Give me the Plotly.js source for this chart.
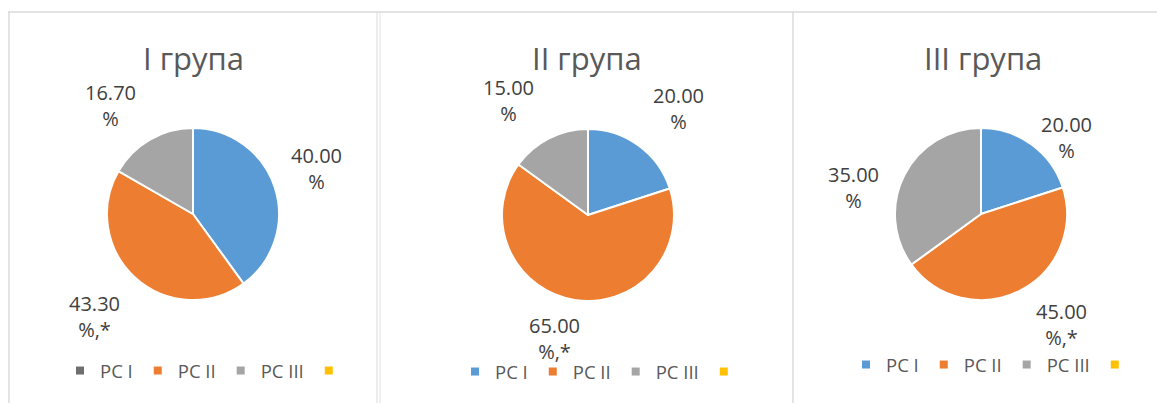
<!DOCTYPE html>
<html>
<head>
<meta charset="utf-8">
<script src="https://cdn.plot.ly/plotly-3.0.1.min.js"></script>
<style>html,body{margin:0;padding:0;background:#fff;overflow:hidden;}#chart{width:1157px;height:403px;}</style>
</head>
<body>
<div id="chart"></div>
<script>
// ---- data ----
const categories = ["PC I", "PC II", "PC III"];
const groupTitles = ["I група", "II група", "III група"];
const group1 = [40.0, 43.3, 16.7];
const group2 = [20.0, 65.0, 15.0];
const group3 = [20.0, 45.0, 35.0];
const labelSuffix = ["", ",*", ""];
const legendNames = ["PC I", "PC II", "PC III", ""];

// ---- styles / layout config ----
const W = 1157, H = 403;
const sliceColors = ["#5B9BD5", "#ED7D31", "#A5A5A5"];
const legendColors = [
  ["#6E6E6E", "#ED7D31", "#A5A5A5", "#FFC000"],
  ["#5B9BD5", "#ED7D31", "#A5A5A5", "#FFC000"],
  ["#5B9BD5", "#ED7D31", "#A5A5A5", "#FFC000"]
];
const panels = [
  {cx: 193, cy: 214, r: 86, titleX: 193, legendX: 60, legendY: 371,
   nudge: [[-5,-4],[-8,2],[-15,8]]},
  {cx: 588, cy: 215, r: 86, titleX: 587, legendX: 455, legendY: 372,
   nudge: [[11,3],[-12,-10],[-18,6]]},
  {cx: 981, cy: 214, r: 86, titleX: 983, legendX: 846, legendY: 365,
   nudge: [[6,33],[19,-10],[-7,35]]}
];
const groups = [group1, group2, group3];
const FONT = "Open Sans, Noto Sans, sans-serif";

const px = x => x / W;
const py = y => (H - y) / H;

const traces = [];
const annotations = [];
const layout = {
  width: W, height: H,
  margin: {l: 0, r: 0, t: 0, b: 0},
  paper_bgcolor: "#fff", plot_bgcolor: "#fff",
  xaxis: {visible: false, range: [0, 1]},
  yaxis: {visible: false, range: [0, 1]},
  showlegend: true,
  font: {family: FONT, color: "#595959"},
  shapes: [
    {type: "line", xref: "paper", yref: "paper", x0: px(8), x1: 1, y0: py(12), y1: py(12), line: {color: "#DADADA", width: 1.5}},
    {type: "line", xref: "paper", yref: "paper", x0: px(9), x1: px(9), y0: 0, y1: py(12), line: {color: "#DADADA", width: 1.5}},
    {type: "line", xref: "paper", yref: "paper", x0: px(377), x1: px(377), y0: 0, y1: py(12), line: {color: "#DADADA", width: 1}},
    {type: "line", xref: "paper", yref: "paper", x0: px(380), x1: px(380), y0: 0, y1: py(12), line: {color: "#E2E2E2", width: 1}},
    {type: "line", xref: "paper", yref: "paper", x0: px(793), x1: px(793), y0: 0, y1: py(12), line: {color: "#DADADA", width: 1.5}}
  ],
  annotations: annotations
};

groups.forEach((vals, gi) => {
  const p = panels[gi];
  traces.push({
    type: "pie",
    labels: categories,
    values: vals,
    sort: false,
    direction: "clockwise",
    rotation: 0,
    textinfo: "none",
    hoverinfo: "label+value",
    showlegend: false,
    marker: {colors: sliceColors, line: {color: "#fff", width: 2}},
    domain: {x: [px(p.cx - p.r), px(p.cx + p.r)], y: [py(p.cy + p.r), py(p.cy - p.r)]}
  });
  // title
  annotations.push({
    text: groupTitles[gi], xref: "paper", yref: "paper",
    x: px(p.titleX), y: py(58), xanchor: "center", yanchor: "middle",
    showarrow: false, font: {family: FONT, size: 31, color: "#595959"}
  });
  // data labels from slice mid-angles
  const total = vals.reduce((a, b) => a + b, 0);
  let cum = 0;
  vals.forEach((v, i) => {
    const mid = (cum + v / 2) / total * 2 * Math.PI;
    cum += v;
    const d = 135;
    const lx = p.cx + d * Math.sin(mid) + p.nudge[i][0];
    const ly = p.cy - d * Math.cos(mid) + p.nudge[i][1];
    annotations.push({
      text: v.toFixed(2) + "<br>%" + labelSuffix[i],
      xref: "paper", yref: "paper", x: px(lx), y: py(ly),
      xanchor: "center", yanchor: "middle", align: "center",
      showarrow: false, font: {family: FONT, size: 20, color: "#404040"}
    });
  });
  // legend
  const legKey = gi === 0 ? "legend" : "legend" + (gi + 1);
  legendNames.forEach((nm, k) => {
    traces.push({
      type: "scatter", mode: "markers", x: [null], y: [null],
      name: nm, legend: legKey,
      marker: {symbol: "square", size: 8, color: legendColors[gi][k]},
      hoverinfo: "skip"
    });
  });
  layout[legKey] = {
    orientation: "h", xref: "paper", yref: "paper",
    x: px(p.legendX), y: py(p.legendY), xanchor: "left", yanchor: "middle",
    bgcolor: "rgba(0,0,0,0)", borderwidth: 0,
    font: {family: FONT, size: 18.5, color: "#595959"},
    itemclick: false, itemdoubleclick: false
  };
});

Plotly.newPlot("chart", traces, layout, {displayModeBar: false, staticPlot: true});
</script>
</body>
</html>
